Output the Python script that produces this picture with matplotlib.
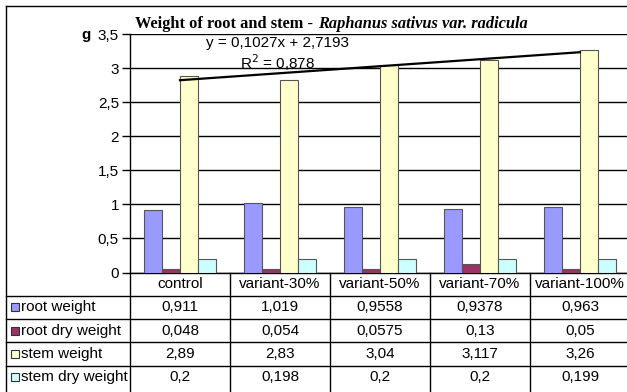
import numpy as np
import matplotlib.pyplot as plt

# data
categories = ["control", "variant-30%", "variant-50%", "variant-70%", "variant-100%"]
series_names = ["root weight", "root dry weight", "stem weight", "stem dry weight"]
root_weight = [0.911, 1.019, 0.9558, 0.9378, 0.963]
root_dry_weight = [0.048, 0.054, 0.0575, 0.13, 0.05]
stem_weight = [2.89, 2.83, 3.04, 3.117, 3.26]
stem_dry_weight = [0.2, 0.198, 0.2, 0.2, 0.199]
value_text = [
    ["0,911", "1,019", "0,9558", "0,9378", "0,963"],
    ["0,048", "0,054", "0,0575", "0,13", "0,05"],
    ["2,89", "2,83", "3,04", "3,117", "3,26"],
    ["0,2", "0,198", "0,2", "0,2", "0,199"],
]
trend_slope = 0.1027
trend_icept = 2.7193
colors = ["#9999FF", "#993366", "#FFFFCC", "#CCFFFF"]

W, H = 627, 392
fig = plt.figure(figsize=(W / 100, H / 100), dpi=100)
sans = "Liberation Sans"
serif = "Liberation Serif"
fs = 11

# pixel-space overlay for table and frame
ov = fig.add_axes([0, 0, 1, 1])
ov.set_xlim(0, W)
ov.set_ylim(H, 0)
ov.axis("off")

x0, cw = 130, 100
y_axis = 272.5
rh = 23.3

ax = fig.add_axes([x0 / W, 1 - y_axis / H, 5 * cw / W, (y_axis - 34) / H])
ax.set_xlim(0, 5)
ax.set_ylim(0, 3.5)

data = [root_weight, root_dry_weight, stem_weight, stem_dry_weight]
bw = 0.18
xs = np.arange(len(categories)) + 0.5
for i, vals in enumerate(data):
    ax.bar(xs + (i - 1.5) * bw, vals, bw, color=colors[i], edgecolor="#555555",
           linewidth=0.8, zorder=3)

# linear trend over stem weight
tx = np.array([1, 5])
ax.plot(xs[[0, -1]], trend_slope * tx + trend_icept, color="black", lw=1.6, zorder=4)
ax.text(1.48, 3.37, "y = 0,1027x + 2,7193", fontsize=fs, family=sans, ha="center", va="center")
ax.text(1.48, 3.08, "R$^2$ = 0,878", fontsize=fs, family=sans, ha="center", va="center")

ax.set_yticks(np.arange(0, 3.51, 0.5))
ax.set_yticklabels(["0", "0,5", "1", "1,5", "2", "2,5", "3", "3,5"], fontsize=fs, family=sans)
ax.set_xticks([])
ax.yaxis.grid(True, color="black", lw=1.0, zorder=0)
ax.tick_params(axis="y", length=6, width=1, pad=2)
for s in ["top", "right", "bottom"]:
    ax.spines[s].set_visible(False)
ax.spines["left"].set_linewidth(1.0)
ax.patch.set_alpha(0)

# title and unit
tfs = 11.8
t1 = ov.text(135, 28, "Weight of root and stem - ", fontsize=tfs, family=serif, weight="bold",
             ha="left", va="baseline")
fig.canvas.draw()
bb = t1.get_window_extent()
ov.text(bb.x1 + 1, 28, "Raphanus sativus var. radicula", fontsize=tfs, family=serif,
        weight="bold", style="italic", ha="left", va="baseline")
ov.text(86, 35, "g", fontsize=fs, family=sans, weight="bold", ha="center", va="center")

# outer frame
ov.plot([6, 6], [6, H], color="black", lw=1)
ov.plot([6, W], [6, 6], color="black", lw=1)

# data table
ov.plot([x0, W], [y_axis, y_axis], color="black", lw=1)
for r in range(1, 5):
    y = y_axis + r * rh
    ov.plot([6, W], [y, y], color="black", lw=1)
for c in range(5):
    x = x0 + c * cw
    ov.plot([x, x], [y_axis, H], color="black", lw=1)

for c, name in enumerate(categories):
    ov.text(x0 + (c + 0.5) * cw, y_axis + rh / 2, name, fontsize=fs, family=sans,
            ha="center", va="center")
for r, name in enumerate(series_names):
    yc = y_axis + (r + 1.5) * rh
    ov.add_patch(plt.Rectangle((11, yc - 4), 8, 8, facecolor=colors[r],
                               edgecolor="#333333", lw=0.8))
    ov.text(21, yc, name, fontsize=fs, family=sans, ha="left", va="center")
    for c in range(5):
        ov.text(x0 + (c + 0.5) * cw, yc, value_text[r][c], fontsize=fs, family=sans,
                ha="center", va="center")

fig.savefig("out.png", dpi=100)
